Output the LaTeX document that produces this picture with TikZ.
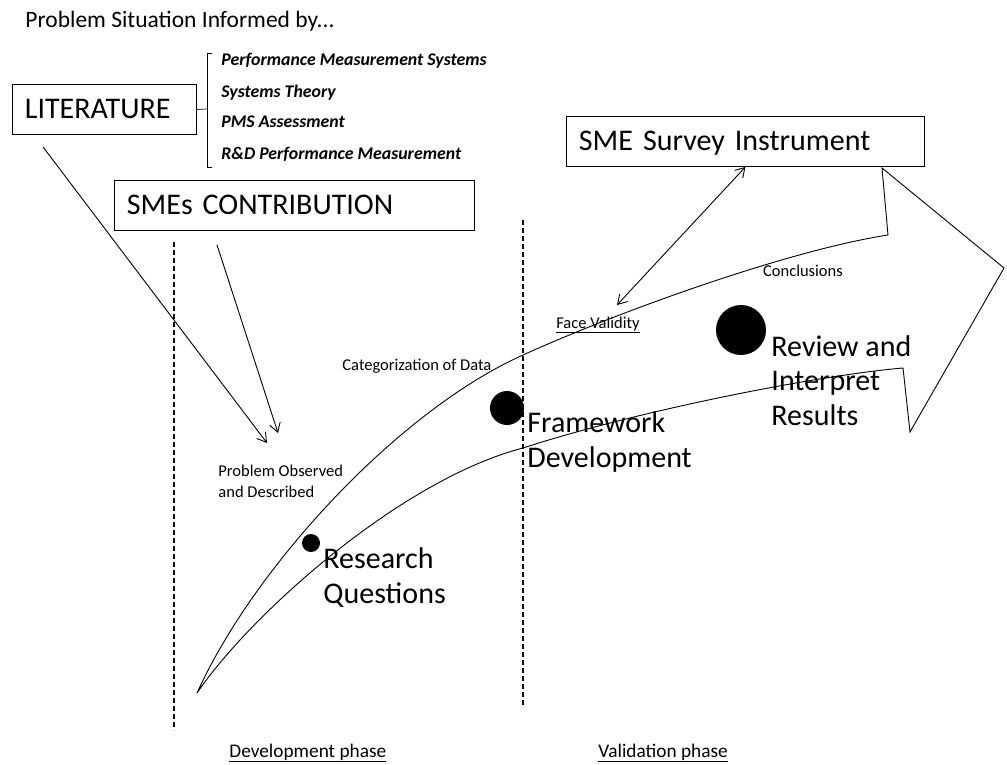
\documentclass[tikz,border=0pt]{standalone}
\usepackage{fontspec}
\setmainfont{Carlito}
\usetikzlibrary{arrows.meta}

\begin{document}
\begin{tikzpicture}[x=1pt,y=-1pt,>={Straight Barb[length=9pt,width=11pt]},
  line width=0.9pt,
  box/.style={draw,anchor=north west,align=left,inner xsep=12.5pt,minimum height=50pt,
    text height=19pt,text depth=0pt,font=\fontsize{30}{34}\selectfont},
  big label/.style={anchor=base west,align=left,inner sep=0pt,font=\fontsize{30}{34.5}\selectfont},
  small label/.style={inner sep=0pt,align=left,font=\fontsize{16.5}{20.5}\selectfont},
  lit item/.style={anchor=base west,inner sep=0pt,font=\fontsize{17.8}{20}\selectfont\bfseries\itshape},
  phase line/.style={line width=1.6pt,dash pattern=on 5pt off 3pt},
  phase label/.style={anchor=base west,inner sep=0pt,font=\fontsize{19.3}{22}\selectfont},
  dot/.style={circle,fill,inner sep=0pt}]
  \useasboundingbox (0,0) rectangle (1007,765);

  \node[anchor=base west,inner sep=0pt,font=\fontsize{23.5}{27}\selectfont] (title) at (25,28) {Problem Situation Informed by...};

  % the three boxes
  \node[box,text width=159pt] (lit) at (12,84) {LITERATURE};
  \node[box,text width=335pt] (smes) at (114,180) {SMEs CONTRIBUTION};
  \node[box,text width=333pt] (survey) at (566,116) {SME Survey Instrument};

  % literature bracket
  \draw[line width=0.7pt] (lit.east) -- (207,109);
  \draw[line width=0.7pt] (212,53) -- (207,53) -- (207,167) -- (212,167);
  \node[lit item] (pms) at (221,66) {Performance Measurement Systems};
  \node[lit item] (syst) at (221,98) {Systems Theory};
  \node[lit item] (pmsa) at (221,128) {PMS Assessment};
  \node[lit item] (rdpm) at (221,160) {R\&D Performance Measurement};

  % phase separators
  \draw[phase line] (174,242) -- (174,730);
  \draw[phase line] (523,220) -- (523,708);

  % the big arrow
  \draw[line join=miter] (197,693) .. controls (255,565) and (400,410) .. (523,355)
    .. controls (620,311) and (790,250) .. (888,235)
    -- (882,168) -- (1004,268) -- (910,432) -- (903,368)
    .. controls (820,375) and (640,410) .. (523,448)
    .. controls (400,480) and (250,615) .. cycle;

  % milestones
  \node[dot,minimum size=18pt] (rqdot) at (311,543) {};
  \node[dot,minimum size=34pt] (fwdot) at (507,408) {};
  \node[dot,minimum size=50pt] (rvdot) at (741,330) {};
  \node[big label] (rq) at (323,603) {Research\\Questions};
  \node[big label] (fw) at (527,467) {Framework\\Development};
  \node[big label] (rv) at (771,425) {Review and\\Interpret\\Results};

  % small labels
  \node[small label,anchor=base west] (obs) at (218,497) {Problem Observed\\and Described};
  \node[small label,anchor=base west] (cat) at (342,370) {Categorization of Data};
  \node[small label,anchor=base] (concl) at (803,276) {Conclusions};
  \node[small label,anchor=base] (fv) at (598,328) {\underline{Face Validity}};

  \coordinate (littip) at (267,443);
  \coordinate (smestip) at (278,433);
  \coordinate (fvtip) at (617,305);
  \draw[->] ([shift={(31,12)}]lit.south west) -- (littip);
  \draw[->] ([shift={(103,14)}]smes.south west) -- (smestip);
  \draw[<->] (survey.south) -- (fvtip);

  \node[phase label] (dev) at (229,757) {\underline{Development phase}};
  \node[phase label] (val) at (598,757) {\underline{Validation phase}};
\end{tikzpicture}
\end{document}
